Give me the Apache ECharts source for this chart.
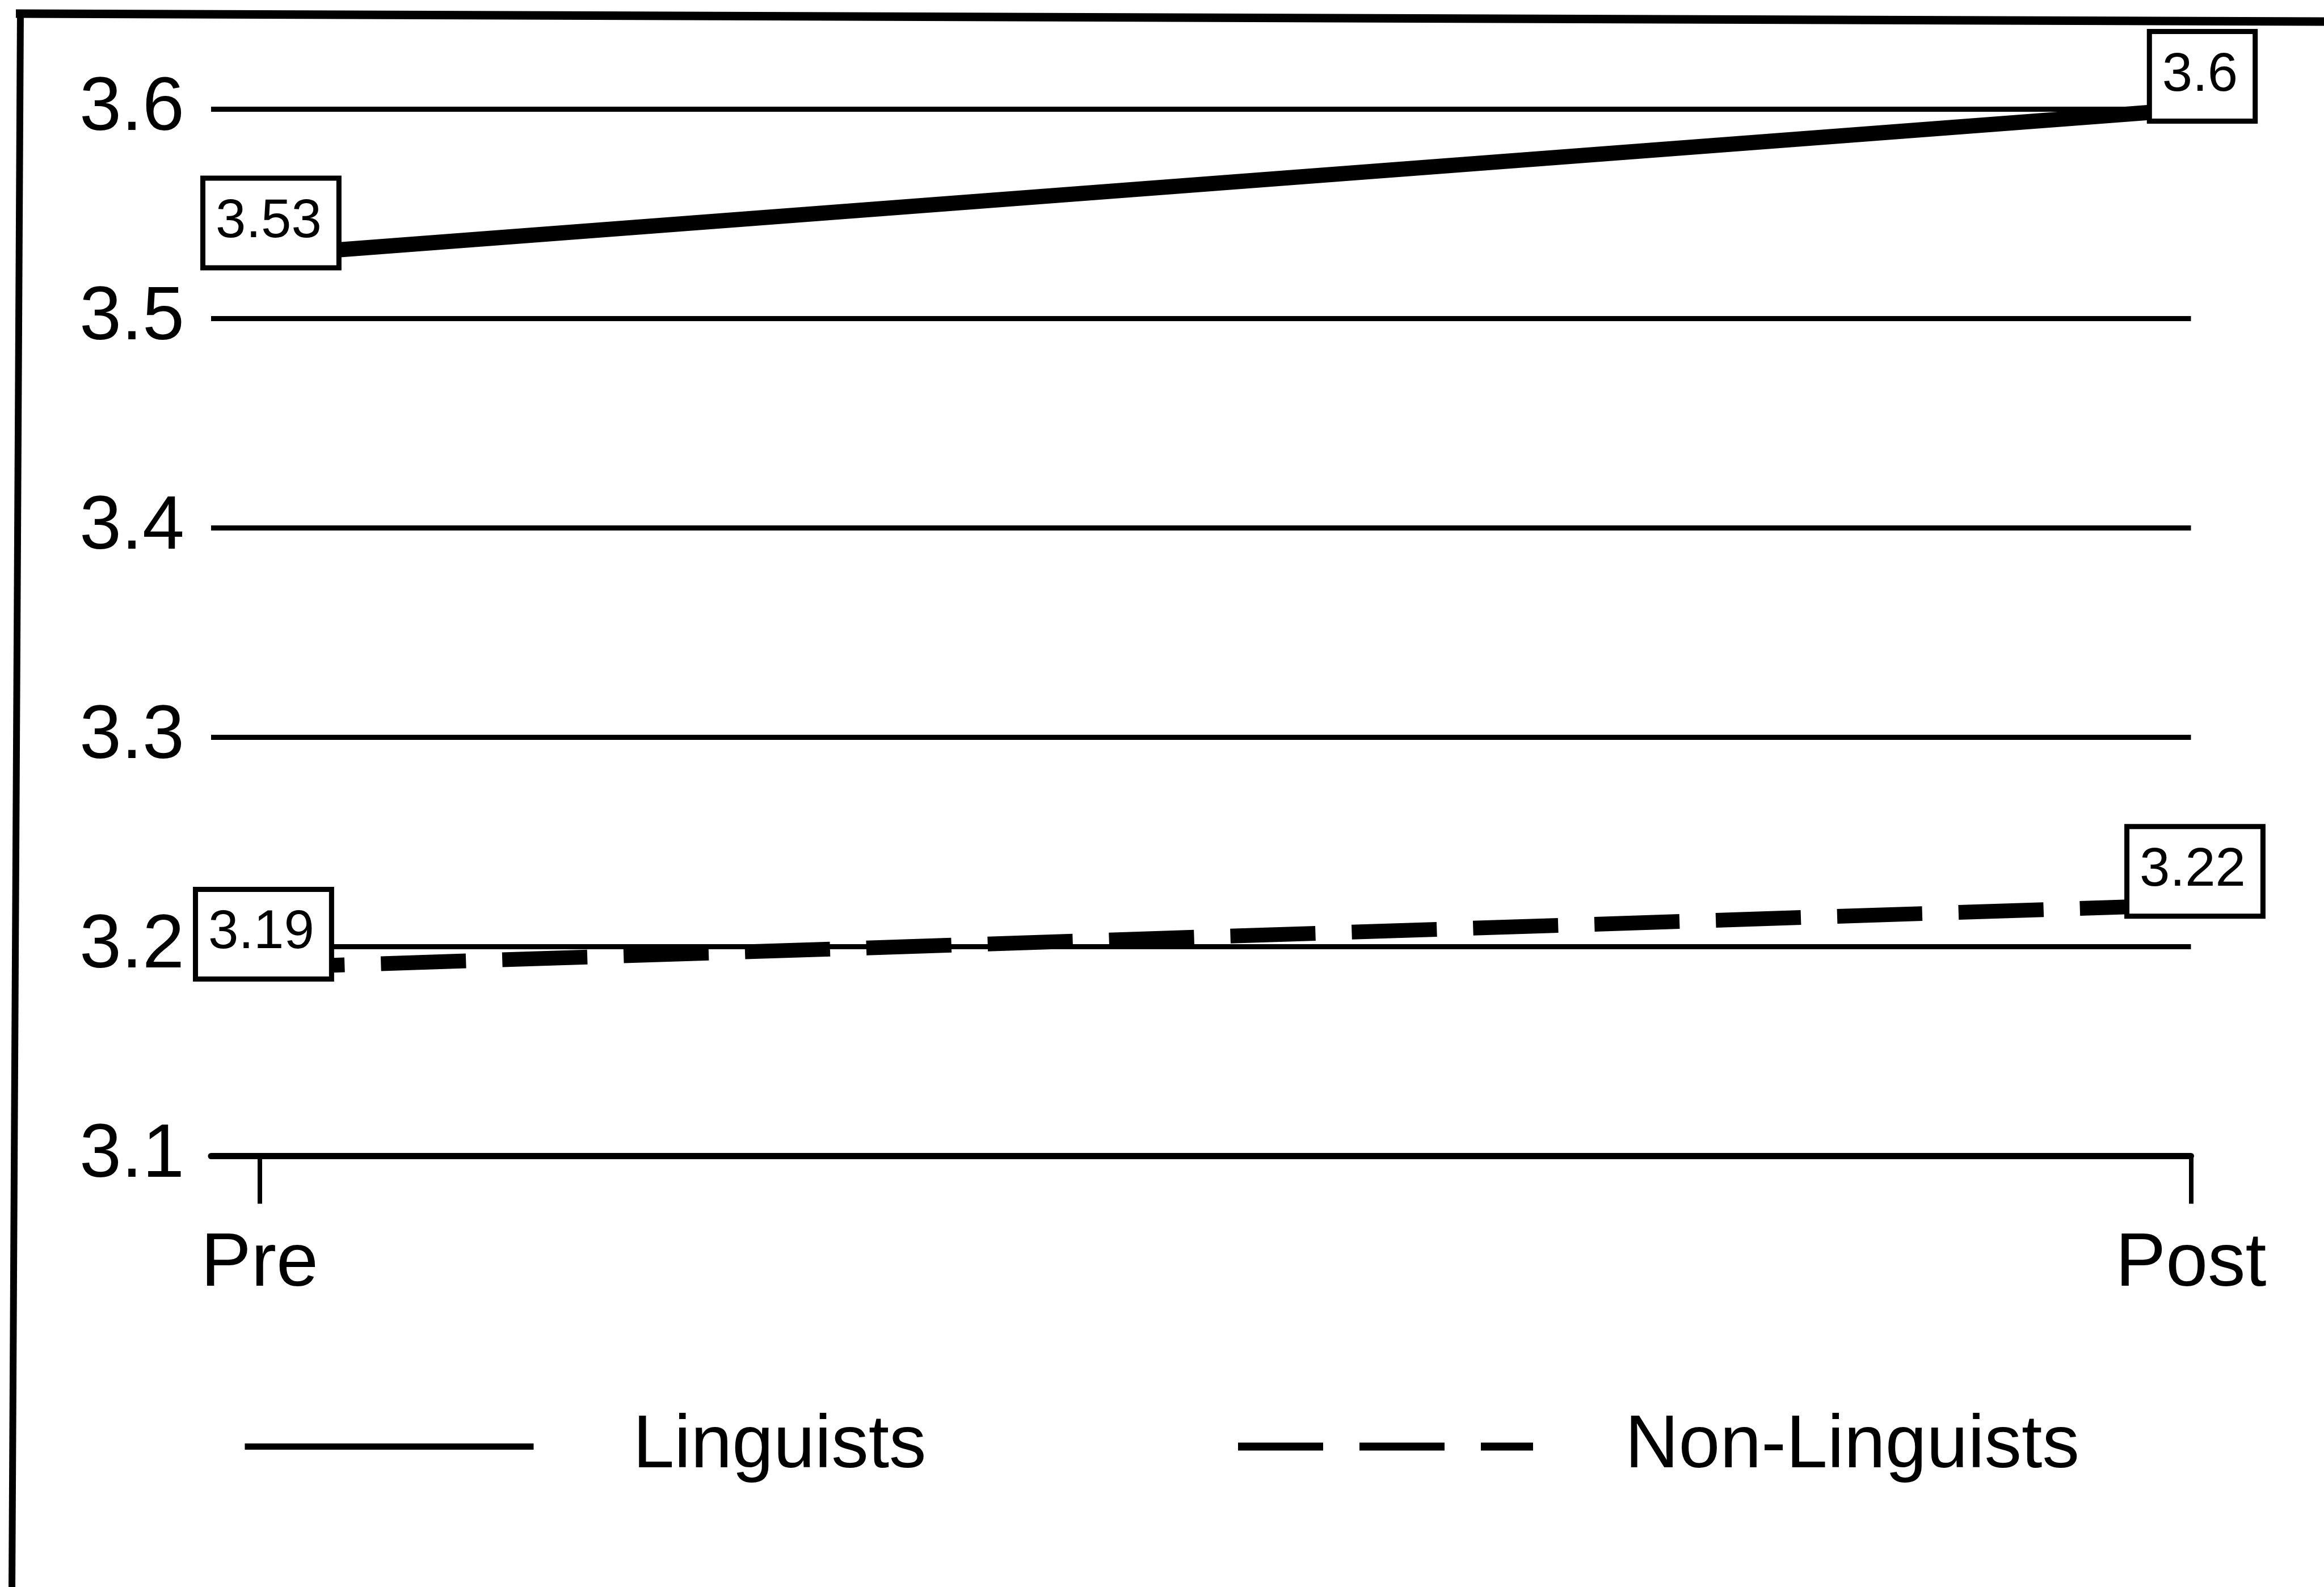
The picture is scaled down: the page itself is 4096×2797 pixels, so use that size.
<!DOCTYPE html>
<html>
<head>
<meta charset="utf-8">
<title>Linguists vs Non-Linguists</title>
<script src="https://cdn.jsdelivr.net/npm/echarts@6/dist/echarts.min.js"></script>
<style>
  html, body { margin: 0; padding: 0; background: #fff; }
  #chart { width: 4096px; height: 2797px; }
</style>
</head>
<body>
<div id="chart"></div>
<script>
const categories = ["Pre", "Post"];
const linguists = [3.53, 3.6];
const nonLinguists = [3.19, 3.22];
const yMin = 3.1;
const yMax = 3.6;
const yStep = 0.1;

const FONT = "'Liberation Sans', Arial, Helvetica, sans-serif";

// x is the category index: 0 = Pre, 1 = Post
const toPoints = values => values.map((v, i) => [i, v]);

const valueLabel = offset => ({
    show: true,
    position: "top",
    distance: 0,
    offset: offset,
    formatter: p => String(p.value[1]),
    fontFamily: FONT,
    fontSize: 96,
    lineHeight: 96,
    color: "#000",
    backgroundColor: "#fff",
    borderColor: "#000",
    borderWidth: 9,
    padding: [25, 26, 28, 18]
});

const chart = echarts.init(document.getElementById("chart"));
chart.setOption({
    backgroundColor: "#fff",
    animation: false,
    textStyle: {fontFamily: FONT, color: "#000"},
    grid: {left: 372, right: 234.5, top: 192.6, bottom: 759.5},
    xAxis: {
        type: "value",
        min: -0.0251,
        max: 1,
        axisLine: {show: true, onZero: false, lineStyle: {color: "#000", width: 11}},
        axisTick: {
            show: true,
            customValues: [0, 1],
            length: 84,
            lineStyle: {color: "#000", width: 8}
        },
        axisLabel: {
            customValues: [0, 1],
            formatter: v => categories[v] || "",
            margin: 125,
            fontFamily: FONT,
            fontSize: 133,
            color: "#000"
        },
        splitLine: {show: false}
    },
    yAxis: {
        type: "value",
        min: yMin,
        max: yMax,
        interval: yStep,
        axisLine: {show: false},
        axisTick: {show: false},
        axisLabel: {
            formatter: v => v.toFixed(1),
            margin: 47,
            fontFamily: FONT,
            fontSize: 133,
            color: "#000",
            padding: [0, 0, 22, 0]
        },
        splitLine: {lineStyle: {color: "#000", width: 9}}
    },
    legend: [
        {
            data: ["Linguists"],
            left: 426,
            top: 2484,
            padding: 0,
            selectedMode: false,
            itemWidth: 509,
            itemHeight: 131,
            itemStyle: {opacity: 0},
            lineStyle: {width: 11},
            textStyle: {fontFamily: FONT, fontSize: 131, color: "#000", padding: [0, 0, 0, 170]}
        },
        {
            data: ["Non-Linguists"],
            left: 2175,
            top: 2484,
            padding: 0,
            selectedMode: false,
            itemWidth: 520,
            itemHeight: 131,
            itemStyle: {opacity: 0},
            lineStyle: {width: 14},
            textStyle: {fontFamily: FONT, fontSize: 131, color: "#000", padding: [0, 0, 0, 157]}
        }
    ],
    graphic: [
        {type: "line", shape: {x1: 28, y1: 24, x2: 4096, y2: 38}, style: {stroke: "#000", lineWidth: 15}},
        {type: "line", shape: {x1: 36, y1: 18, x2: 21, y2: 2797}, style: {stroke: "#000", lineWidth: 12}}
    ],
    series: [
        {
            name: "Linguists",
            type: "line",
            data: toPoints(linguists),
            symbol: "circle",
            symbolSize: 1,
            itemStyle: {color: "#000"},
            lineStyle: {color: "#000", width: 27},
            label: valueLabel([20, 17])
        },
        {
            name: "Non-Linguists",
            type: "line",
            data: toPoints(nonLinguists),
            symbol: "circle",
            symbolSize: 1,
            itemStyle: {color: "#000"},
            lineStyle: {color: "#000", width: 26, type: [150, 64]},
            label: valueLabel([7, 16])
        }
    ]
});
</script>
</body>
</html>
